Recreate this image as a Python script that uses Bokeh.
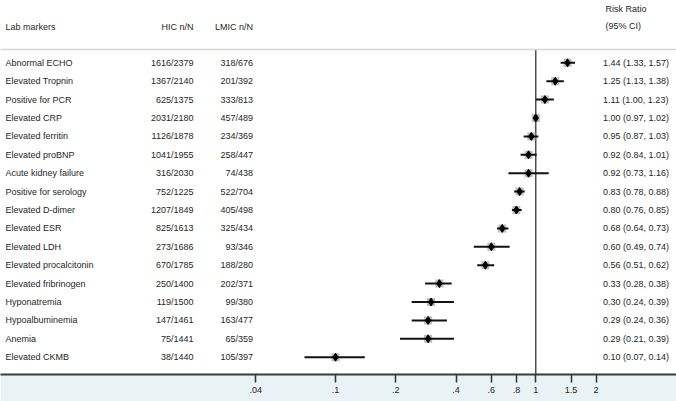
import numpy as np
from bokeh.plotting import figure
from bokeh.models import Range1d, FixedTicker, Span, ColumnDataSource
from bokeh.core.properties import value
from bokeh.embed import file_html
from bokeh.resources import INLINE

# ---------------- data ----------------
labels = ["Abnormal ECHO", "Elevated Tropnin", "Positive for PCR", "Elevated CRP",
          "Elevated ferritin", "Elevated proBNP", "Acute kidney failure",
          "Positive for serology", "Elevated D-dimer", "Elevated ESR", "Elevated LDH",
          "Elevated procalcitonin", "Elevated fribrinogen", "Hyponatremia",
          "Hypoalbuminemia", "Anemia", "Elevated CKMB"]
hic_nN = ["1616/2379", "1367/2140", "625/1375", "2031/2180", "1126/1878", "1041/1955",
          "316/2030", "752/1225", "1207/1849", "825/1613", "273/1686", "670/1785",
          "250/1400", "119/1500", "147/1461", "75/1441", "38/1440"]
lmic_nN = ["318/676", "201/392", "333/813", "457/489", "234/369", "258/447", "74/438",
           "522/704", "405/498", "325/434", "93/346", "188/280", "202/371", "99/380",
           "163/477", "65/359", "105/397"]
rr = [1.44, 1.25, 1.11, 1.00, 0.95, 0.92, 0.92, 0.83, 0.80, 0.68, 0.60, 0.56,
      0.33, 0.30, 0.29, 0.29, 0.10]
ci_lo = [1.33, 1.13, 1.00, 0.97, 0.87, 0.84, 0.73, 0.78, 0.76, 0.64, 0.49, 0.51,
         0.28, 0.24, 0.24, 0.21, 0.07]
ci_hi = [1.57, 1.38, 1.23, 1.02, 1.03, 1.01, 1.16, 0.88, 0.85, 0.73, 0.74, 0.62,
         0.38, 0.39, 0.36, 0.39, 0.14]
tick_values = [0.04, 0.1, 0.2, 0.4, 0.6, 0.8, 1, 1.5, 2]
tick_labels = [".04", ".1", ".2", ".4", ".6", ".8", "1", "1.5", "2"]
header_labels = ["Lab markers", "HIC n/N", "LMIC n/N", "Risk Ratio", "(95% CI)"]

# ---------------- layout (pixel positions) ----------------
W, H = 676, 401
LOG_X1, LOG_DEC = 535.3, 200.3          # px of RR=1, px per decade
ROW0, ROW_STEP = 62.3, 18.4
FRAME_H = 374
BOTTOM = H - FRAME_H

def x_of_px(px):
    return 10 ** ((px - LOG_X1) / LOG_DEC)
def y_of_px(py):
    return (py - ROW0) / ROW_STEP

n = len(labels)
idx = list(range(n))
x_lab = x_of_px(5.0)
x_hic = x_of_px(193.0)
x_lmic = x_of_px(252.5)
x_rr = x_of_px(602.5)
x_rrh = x_of_px(605.0)
y_head = y_of_px(26)
y_rr1 = y_of_px(8.5)
y_rr2 = y_of_px(25.5)
y_rule = y_of_px(49)

FONT = value("Liberation Sans")
FS = value("9px")
TXT = "#262626"

p = figure(width=W, height=H, x_axis_type="log",
           x_range=Range1d(x_of_px(0), x_of_px(W)),
           y_range=Range1d(y_of_px(FRAME_H), y_of_px(0)),
           output_backend="svg", toolbar_location=None, y_axis_location=None,
           min_border_left=0, min_border_right=0, min_border_top=0,
           min_border_bottom=BOTTOM)
p.outline_line_color = None
p.grid.visible = False
p.background_fill_color = "white"
p.border_fill_color = "#e9f2f4"

src = ColumnDataSource(dict(
    y=idx, label=labels, hic=hic_nN, lmic=lmic_nN, rr=rr, lo=ci_lo, hi=ci_hi,
    rrtxt=[f"{a:.2f} ({b:.2f}, {c:.2f})" for a, b, c in zip(rr, ci_lo, ci_hi)],
    xl=[x_lab] * n, xh=[x_hic] * n, xm=[x_lmic] * n, xr=[x_rr] * n))

# header rule and reference line
p.add_layout(Span(location=y_rule, dimension="width", line_color="#d6d6d6", line_width=1.5))
p.segment(x0=[1], y0=[y_rule], x1=[1], y1=[y_of_px(FRAME_H)], line_color="#222222", line_width=1.2)

# markers
p.scatter("rr", "y", source=src, marker="square", size=8, fill_color="#bdbdbd", line_color=None)
p.segment(x0="lo", y0="y", x1="hi", y1="y", source=src, line_color="#111111", line_width=2)
p.scatter("rr", "y", source=src, marker="diamond", size=8, fill_color="black", line_color="black")

# text columns
common = dict(text_font=FONT, text_font_size=FS, text_color=TXT, text_baseline="middle")
p.text(x="xl", y="y", text="label", source=src, text_align="left", **common)
p.text(x="xh", y="y", text="hic", source=src, text_align="right", **common)
p.text(x="xm", y="y", text="lmic", source=src, text_align="right", **common)
p.text(x="xr", y="y", text="rrtxt", source=src, text_align="left", **common)

# headers
p.text(x=[x_lab], y=[y_head], text=[header_labels[0]], text_align="left", **common)
p.text(x=[x_hic], y=[y_head], text=[header_labels[1]], text_align="right", **common)
p.text(x=[x_lmic], y=[y_head], text=[header_labels[2]], text_align="right", **common)
p.text(x=[x_rrh], y=[y_rr1], text=[header_labels[3]], text_align="left", **common)
p.text(x=[x_rrh], y=[y_rr2], text=[header_labels[4]], text_align="left", **common)

ax = p.xaxis[0]
ax.ticker = FixedTicker(ticks=tick_values, minor_ticks=[])
ax.major_label_overrides = {v: t for v, t in zip(tick_values, tick_labels)}
ax.axis_line_color = "#3a3a3a"
ax.axis_line_width = 2
ax.major_tick_line_color = "#333333"
ax.major_tick_line_width = 1.5
ax.major_tick_out = 8
ax.major_tick_in = 0
ax.minor_tick_line_color = None
ax.major_label_standoff = 4
ax.major_label_text_font = "Liberation Sans"
ax.major_label_text_font_size = "9px"
ax.major_label_text_color = TXT

open("out.html", "w").write(file_html(p, INLINE))
